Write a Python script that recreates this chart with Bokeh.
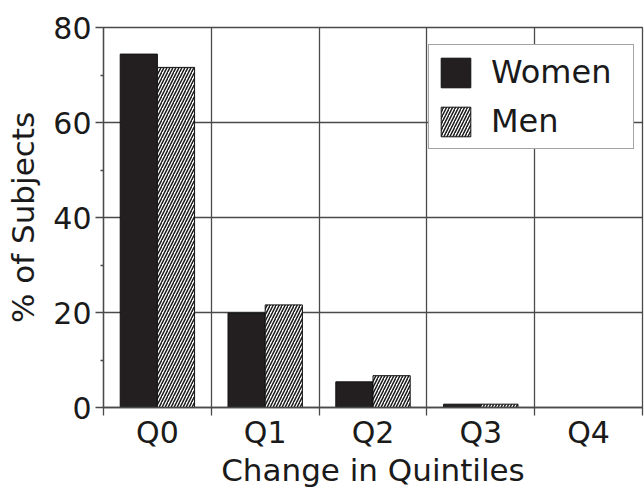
from bokeh.plotting import figure
from bokeh.models import FixedTicker, Legend, LegendItem, ColumnDataSource, Range1d
from bokeh.transform import dodge
from bokeh.embed import file_html
from bokeh.resources import INLINE

# ---- data ----
categories = ["Q0", "Q1", "Q2", "Q3", "Q4"]
women = [74.4, 19.9, 5.4, 0.7, 0.0]
men = [71.6, 21.6, 6.7, 0.7, 0.0]
y_ticks = [0, 20, 40, 60, 80]
y_minor = [10, 30, 50, 70]
x_title = "Change in Quintiles"
y_title = "% of Subjects"

FONT = "DejaVu Sans"
LINE = "#4a4a4a"
TXT = "#1a1a1a"
BAR_W = 0.345

centers = [i + 0.5 for i in range(len(categories))]
bounds = list(range(len(categories) + 1))
src = ColumnDataSource(dict(x=centers, women=women, men=men))

p = figure(frame_width=539, frame_height=380, output_backend="svg", toolbar_location=None,
           x_range=Range1d(0, len(categories)), y_range=Range1d(0, 80),
           min_border_left=103, min_border_right=2, min_border_top=27, min_border_bottom=78)
p.background_fill_color = "white"
p.border_fill_color = "white"
p.outline_line_color = LINE
p.outline_line_width = 1.3

r_w = p.vbar(x=dodge("x", -BAR_W / 2, range=p.x_range), top="women", width=BAR_W, source=src,
             fill_color="#231f20", line_color="#111111", line_width=1)
r_m = p.vbar(x=dodge("x", BAR_W / 2, range=p.x_range), top="men", width=BAR_W, source=src,
             fill_color="white", line_color="#111111", line_width=1,
             hatch_pattern="/", hatch_color="#1a1a1a", hatch_scale=6, hatch_weight=1.5)

# x axis
xa = p.xaxis[0]
xa.ticker = FixedTicker(ticks=centers, minor_ticks=bounds)
xa.major_label_overrides = {c: lab for c, lab in zip(centers, categories)}
xa.major_tick_line_color = None
xa.major_tick_out = 0
xa.major_tick_in = 0
xa.minor_tick_out = 8
xa.minor_tick_in = 0
xa.minor_tick_line_color = LINE
xa.minor_tick_line_width = 1.3
xa.axis_line_color = LINE
xa.axis_line_width = 1.3
xa.major_label_text_font = FONT
xa.major_label_text_font_size = "30px"
xa.major_label_text_color = TXT
xa.major_label_standoff = -1
xa.axis_label = x_title
xa.axis_label_text_font = FONT
xa.axis_label_text_font_size = "31px"
xa.axis_label_text_font_style = "normal"
xa.axis_label_text_color = TXT
xa.axis_label_standoff = -1

# y axis
ya = p.yaxis[0]
ya.ticker = FixedTicker(ticks=y_ticks, minor_ticks=y_minor)
ya.major_tick_out = 8
ya.major_tick_in = 0
ya.minor_tick_out = 3
ya.minor_tick_in = 0
ya.major_tick_line_color = LINE
ya.minor_tick_line_color = LINE
ya.major_tick_line_width = 1.3
ya.minor_tick_line_width = 1.3
ya.axis_line_color = LINE
ya.axis_line_width = 1.3
ya.major_label_text_font = FONT
ya.major_label_text_font_size = "30px"
ya.major_label_text_color = TXT
ya.major_label_standoff = 4
ya.axis_label = y_title
ya.axis_label_text_font = FONT
ya.axis_label_text_font_size = "31px"
ya.axis_label_text_font_style = "normal"
ya.axis_label_text_color = TXT
ya.axis_label_standoff = 9

# grids
p.xgrid.ticker = FixedTicker(ticks=bounds[1:-1])
p.xgrid.grid_line_color = LINE
p.xgrid.grid_line_width = 1.3
p.ygrid.grid_line_color = LINE
p.ygrid.grid_line_width = 1.3

legend = Legend(items=[LegendItem(label="Women", renderers=[r_w]),
                       LegendItem(label="Men", renderers=[r_m])],
                location=(325, 258))
legend.glyph_width = 37
legend.glyph_height = 37
legend.label_standoff = 17
legend.label_width = 134
legend.padding = 8
legend.spacing = 11
legend.margin = 0
legend.border_line_color = LINE
legend.border_line_width = 1.3
legend.background_fill_color = "white"
legend.background_fill_alpha = 1
legend.label_text_font = FONT
legend.label_text_font_size = "32px"
legend.label_text_color = TXT
p.add_layout(legend)

open("out.html", "w").write(file_html(p, INLINE))
